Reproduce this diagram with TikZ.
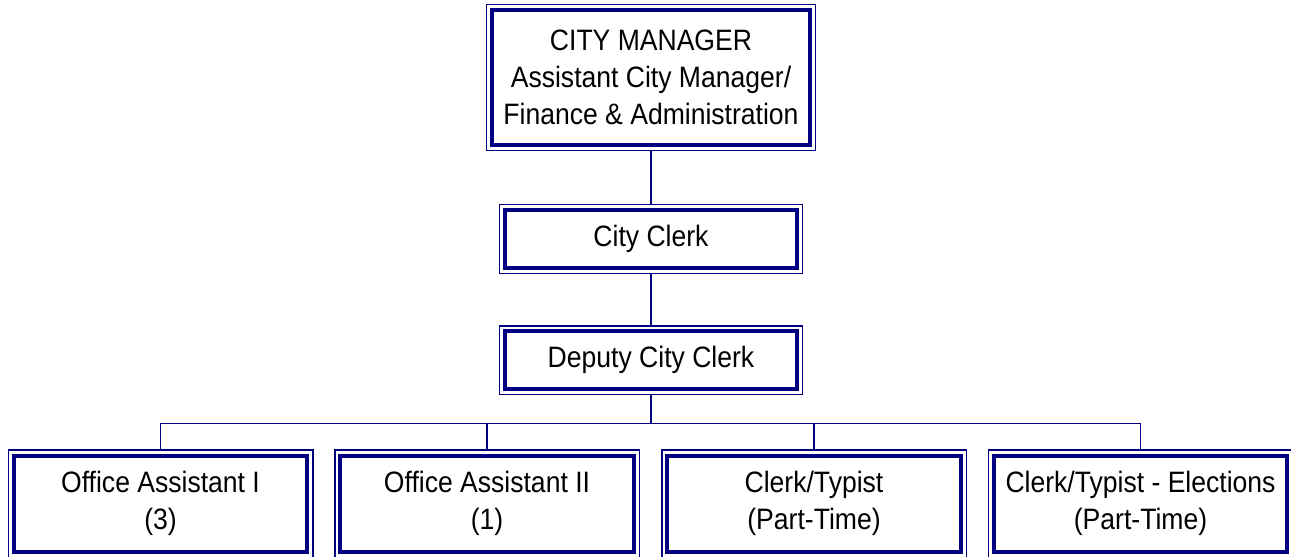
\documentclass[tikz,border=0pt]{standalone}
\usepackage{fontspec}
\setmainfont{Liberation Sans}[FakeStretch=0.9]
\definecolor{framecol}{RGB}{0,0,128}
\begin{document}
\begin{tikzpicture}[x=1pt,y=-1pt,
  posbox/.style={draw=framecol, line width=4pt, inner sep=0pt, outer sep=0pt,
    align=center, font=\fontsize{29.5}{37}\selectfont},
  rim/.style={draw=framecol, line width=1.5pt},
  conn/.style={draw=framecol, line width=1.9pt}]
\useasboundingbox (0,0) rectangle (1291,557);

% positions
\node[posbox, minimum width=318pt, minimum height=135pt] (cm) at (651,77.5)
  {CITY MANAGER\\Assistant City Manager/\\Finance \& Administration};
\node[posbox, minimum width=292pt, minimum height=58pt] (cc) at (651,239) {City Clerk};
\node[posbox, minimum width=292pt, minimum height=57.5pt] (dc) at (651,360) {Deputy City Clerk};
\node[posbox, minimum width=293.5pt, minimum height=96.5pt] (oa1) at (160.5,503.75) {Office Assistant I\\(3)};
\node[posbox, minimum width=293.5pt, minimum height=96.5pt] (oa2) at (487,503.75) {Office Assistant II\\(1)};
\node[posbox, minimum width=293.5pt, minimum height=96.5pt] (ct) at (814,503.75) {Clerk/Typist\\(Part-Time)};
\node[posbox, minimum width=293.5pt, minimum height=96.5pt] (cte) at (1140.5,503.75) {Clerk/Typist - Elections\\(Part-Time)};

% thin outer frame around every box
\foreach \n in {cm,cc,dc,oa1,oa2,ct,cte}
  \draw[rim] ([shift={(-5.5pt,5.5pt)}]\n.north west) rectangle ([shift={(5.5pt,-5.5pt)}]\n.south east);

% connectors
\coordinate (bus) at (651,423.5);
\draw[conn] ([yshift=-5.5pt]cm.south) -- ([yshift=5.5pt]cc.north);
\draw[conn] ([yshift=-5.5pt]cc.south) -- ([yshift=5.5pt]dc.north);
\draw[conn] ([yshift=-5.5pt]dc.south) -- (bus);
\draw[conn] ([yshift=5.5pt]oa1.north) |- (bus) -| ([yshift=5.5pt]cte.north);
\draw[conn] ([yshift=5.5pt]oa2.north) -- (oa2.north |- bus);
\draw[conn] ([yshift=5.5pt]ct.north) -- (ct.north |- bus);
\end{tikzpicture}
\end{document}
